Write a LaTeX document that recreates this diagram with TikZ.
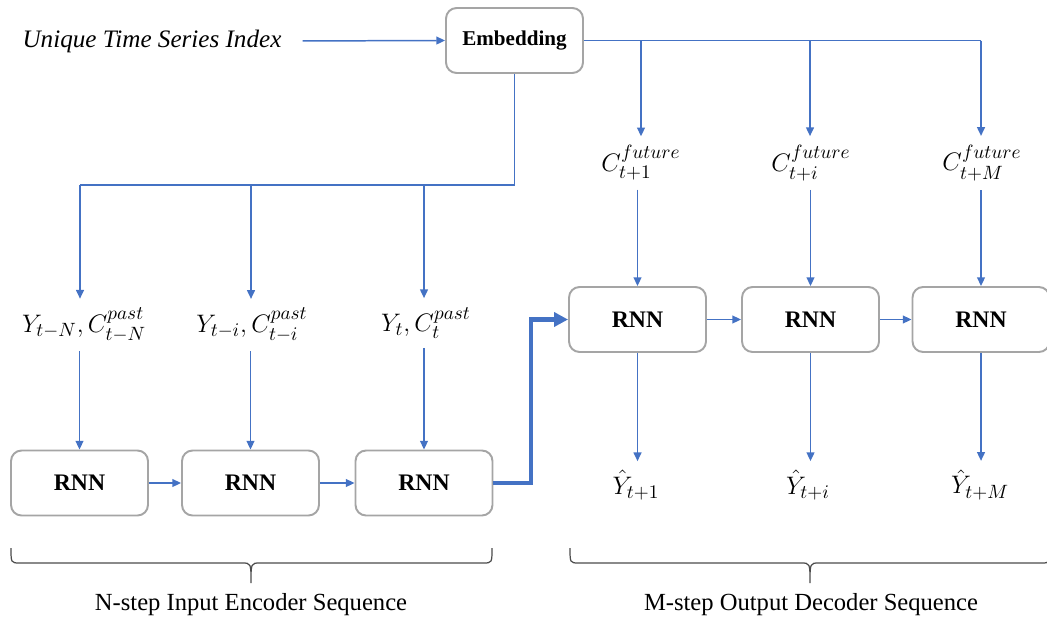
\documentclass[tikz,border=0pt]{standalone}
\usepackage{fontspec}
\setmainfont{Liberation Serif}
\usepackage{amsmath}
\usetikzlibrary{arrows.meta,positioning}

\definecolor{lineblue}{RGB}{68,114,196}
\definecolor{boxgray}{RGB}{165,165,165}

\begin{document}
\begin{tikzpicture}[x=0.02cm, y=-0.02cm,
    rnn/.style={draw=boxgray, line width=1.1pt, rounded corners=6pt, fill=white,
      minimum width=2.74cm, minimum height=1.3cm, font=\fontsize{13.5}{16}\selectfont\bfseries},
    link/.style={draw=lineblue, line width=0.85pt, -{Triangle[length=5pt,width=4.5pt]}},
    wire/.style={draw=lineblue, line width=0.85pt},
    lab/.style={inner sep=5pt, font=\fontsize{15}{17}\selectfont},
    brc/.style={draw=black!70, line width=0.7pt}]
  \useasboundingbox (0,0) rectangle (1047,622);

  % Input and embedding
  \node[font=\fontsize{14.3}{16}\selectfont\itshape] (idx) at (152,41) {Unique Time Series Index};
  \node[rnn, font=\fontsize{12}{14}\selectfont\bfseries] (emb) at (514.5,40.5) {Embedding};
  \draw[link, shorten <=0.3cm] (idx.east) -- (emb.west);

  % Encoder
  \node[rnn] (r1) at (79.5,483) {RNN};
  \node[rnn] (r2) at (250.5,483) {RNN};
  \node[rnn] (r3) at (424,483) {RNN};
  \node[lab] (l1) at (84,325) {$Y_{t-N},C_{t-N}^{past}$};
  \node[lab] (l2) at (252,325) {$Y_{t-i},C_{t-i}^{past}$};
  \node[lab] (l3) at (426,323) {$Y_{t},C_{t}^{past}$};
  \coordinate (j1) at (80,185);
  \coordinate (j2) at (251,185);
  \coordinate (j3) at (424,185);
  \draw[wire] (emb.south) |- (j1);
  \draw[link] (j1) -- (l1.north -| j1);
  \draw[link] (j2) -- (l2.north -| j2);
  \draw[link] (j3) -- (l3.north -| j3);
  \draw[link] (l1.south -| r1) -- (r1.north);
  \draw[link] (l2.south -| r2) -- (r2.north);
  \draw[link] (l3.south -| r3) -- (r3.north);
  \draw[link] (r1) -- (r2);
  \draw[link] (r2) -- (r3);

  % Decoder
  \node[rnn] (d1) at (637.5,319.5) {RNN};
  \node[rnn] (d2) at (810.5,319.5) {RNN};
  \node[rnn] (d3) at (981,319.5) {RNN};
  \node[lab] (f1) at (641,163) {$C_{t+1}^{future}$};
  \node[lab] (f2) at (811,163) {$C_{t+i}^{future}$};
  \node[lab] (f3) at (982,163) {$C_{t+M}^{future}$};
  \node[lab] (y1) at (636,485) {$\hat{Y}_{t+1}$};
  \node[lab] (y2) at (808,485) {$\hat{Y}_{t+i}$};
  \node[lab] (y3) at (980,485) {$\hat{Y}_{t+M}$};
  \coordinate (k1) at (641,40.5);
  \coordinate (k2) at (810,40.5);
  \coordinate (k3) at (981,40.5);
  \draw[wire] (emb.east) -- (k3);
  \draw[link] (k1) -- (f1.north -| k1);
  \draw[link] (k2) -- (f2.north -| k2);
  \draw[link] (k3) -- (f3.north -| k3);
  \draw[link] (f1.south -| d1) -- (d1.north);
  \draw[link] (f2.south -| d2) -- (d2.north);
  \draw[link] (f3.south -| d3) -- (d3.north);
  \draw[link] (d1.south) -- (y1.north -| d1);
  \draw[link] (d2.south) -- (y2.north -| d2);
  \draw[link] (d3.south) -- (y3.north -| d3);
  \draw[link] (d1) -- (d2);
  \draw[link] (d2) -- (d3);

  % Context hand-over
  \coordinate (bend) at (531,400);
  \draw[draw=lineblue, line width=2.4pt, -{Triangle[length=8pt,width=8pt]}] (r3.east) -| (bend) |- (d1.west);

  % Braces
  \draw[brc] (11,548) .. controls (11,563) .. (20,563) -- (242,563)
    .. controls (251,563) .. (251,583) .. controls (251,563) .. (260,563)
    -- (483,563) .. controls (492,563) .. (492,548);
  \draw[brc] (570,548) .. controls (570,563) .. (579,563) -- (801,563)
    .. controls (810,563) .. (810,583) .. controls (810,563) .. (819,563)
    -- (1041,563) .. controls (1050,563) .. (1050,548);
  \node[font=\fontsize{14}{16}\selectfont] (enclab) at (251,605) {N-step Input Encoder Sequence};
  \node[font=\fontsize{14}{16}\selectfont] (declab) at (811,605) {M-step Output Decoder Sequence};
\end{tikzpicture}
\end{document}
